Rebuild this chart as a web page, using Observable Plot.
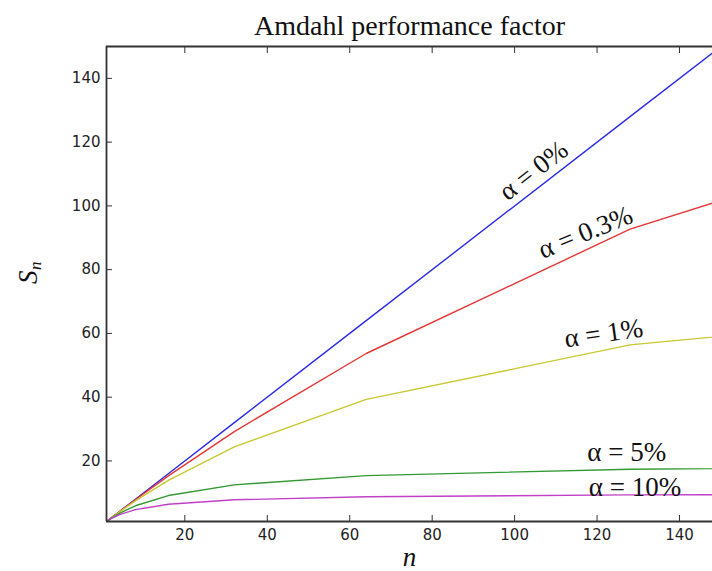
<!DOCTYPE html>
<html>
<head>
<meta charset="utf-8">
<script src="https://cdn.jsdelivr.net/npm/d3@7"></script>
<script src="https://cdn.jsdelivr.net/npm/@observablehq/plot@0.6"></script>
<style>
  html, body { margin: 0; padding: 0; background: #fff; }
  #chart svg { display: block; }
</style>
</head>
<body>
<div id="chart"></div>
<script>
// Processor counts
const nValues = [1, 2, 4, 8, 16, 32, 64, 128, 256];
// Speedup S_n per serial fraction alpha
const s0   = [1, 2, 4, 8, 16, 32, 64, 128, 256];
const s03  = [1, 1.99, 3.96, 7.83, 15.3, 29.2, 53.7, 92.7, 145];
const s1   = [1, 1.98, 3.88, 7.48, 13.9, 24.4, 39.3, 56.4, 72.1];
const s5   = [1, 1.90, 3.48, 5.93, 9.14, 12.5, 15.4, 17.4, 18.6];
const s10  = [1, 1.82, 3.08, 4.71, 6.40, 7.80, 8.77, 9.34, 9.66];
const seriesNames = ["0", "0.3", "1", "5", "10"];
const seriesValues = [s0, s03, s1, s5, s10];
const seriesColors = ["#2b2bea", "#e53535", "#c8c832", "#339933", "#c040c8"];
// Label annotations (in data units)
const labelText = ["α = 0%", "α = 0.3%", "α = 1%", "α = 5%", "α = 10%"];
const labelN = [104.6, 117.2, 121.6, 127.2, 129.2];
const labelS = [111.1, 91.7, 60, 22.7, 11.7];
const labelRotate = [-38, -22, -8, 0, 0];
const xTicks = [20, 40, 60, 80, 100, 120, 140];
const yTicks = [20, 40, 60, 80, 100, 120, 140];

const rows = [];
seriesNames.forEach((name, i) => {
  nValues.forEach((n, j) => rows.push({series: name, n, s: seriesValues[i][j]}));
});
const labels = labelText.map((t, i) => ({t, n: labelN[i], s: labelS[i], r: labelRotate[i]}));

const axisColor = "#333";
const plot = Plot.plot({
  width: 712,
  height: 571,
  marginLeft: 106,
  marginRight: 0,
  marginTop: 46,
  marginBottom: 50,
  style: {background: "#fff", overflow: "visible"},
  x: {domain: [1, 148], label: null},
  y: {domain: [1, 150], label: null},
  color: {domain: seriesNames, range: seriesColors},
  marks: [
    Plot.line(rows, {x: "n", y: "s", z: "series", stroke: "series", strokeWidth: 1.4, clip: true}),
    // inward ticks bottom/top/left
    Plot.axisX(xTicks, {anchor: "bottom", tickSize: -6, tickFormat: () => "", stroke: axisColor, strokeWidth: 1, label: null}),
    Plot.axisX(xTicks, {anchor: "top", tickSize: -6, tickFormat: () => "", stroke: axisColor, strokeWidth: 1, label: null}),
    Plot.axisY(yTicks, {anchor: "left", tickSize: -6, tickFormat: () => "", stroke: axisColor, strokeWidth: 1, label: null}),
    // tick labels
    Plot.axisX(xTicks, {anchor: "bottom", tickSize: 0, tickPadding: 8, fontSize: 15, fontFamily: "DejaVu Sans", fill: "#222", label: null}),
    Plot.axisY(yTicks, {anchor: "left", tickSize: 0, tickPadding: 6, fontSize: 15, fontFamily: "DejaVu Sans", fill: "#222", label: null}),
    // spines
    Plot.ruleY([1], {stroke: axisColor, strokeWidth: 1.8}),
    Plot.ruleY([150], {stroke: axisColor, strokeWidth: 1.8}),
    Plot.ruleX([1], {stroke: axisColor, strokeWidth: 1.8}),
    // annotations
    Plot.text(labels, {x: "n", y: "s", text: "t", rotate: "r", fontSize: 27, fontFamily: "Liberation Serif", fill: "#111", lineAnchor: "middle", textAnchor: "middle"}),
    // title
    Plot.text(["Amdahl performance factor"], {frameAnchor: "top", dy: -20, fontSize: 28, fontFamily: "Liberation Serif", fill: "#111", lineAnchor: "middle"}),
    // x label
    Plot.text(["n"], {frameAnchor: "bottom", dy: 36, fontSize: 27, fontStyle: "italic", fontFamily: "Liberation Serif", fill: "#111", lineAnchor: "middle"}),
    // y label S_n
    Plot.text(["S"], {frameAnchor: "left", dx: -78, dy: 0, rotate: -90, fontSize: 27, fontStyle: "italic", fontFamily: "Liberation Serif", fill: "#111", lineAnchor: "middle"}),
    Plot.text(["n"], {frameAnchor: "left", dx: -71, dy: -14, rotate: -90, fontSize: 17, fontStyle: "italic", fontFamily: "Liberation Serif", fill: "#111", lineAnchor: "middle"})
  ]
});
document.getElementById("chart").appendChild(plot);
</script>
</body>
</html>
